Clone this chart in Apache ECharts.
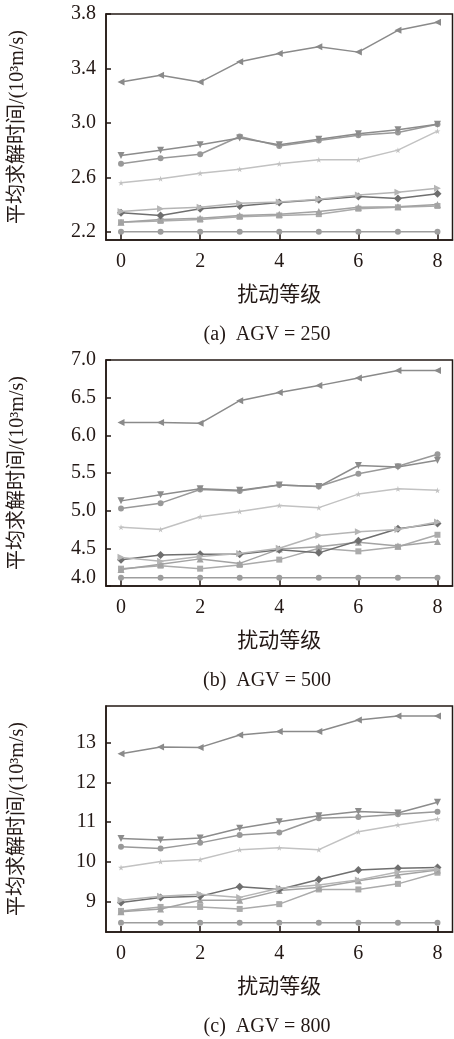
<!DOCTYPE html>
<html>
<head>
<meta charset="utf-8">
<script src="https://cdn.jsdelivr.net/npm/echarts@6/dist/echarts.min.js"></script>
<style>
  html, body { margin: 0; padding: 0; background: #fff; }
  #chart { width: 454px; height: 1039px; }
</style>
</head>
<body>
<div id="chart"></div>
<script>
// disturbance levels on the x axis
const levels = [0, 1, 2, 3, 4, 5, 6, 7, 8];
const xTicks = [0, 2, 4, 6, 8];

// (a) AGV = 250
const a250_s0 = [3.30, 3.35, 3.30, 3.45, 3.51, 3.56, 3.52, 3.68, 3.74];
const a250_s1 = [2.76, 2.80, 2.84, 2.89, 2.84, 2.88, 2.92, 2.95, 2.99];
const a250_s2 = [2.70, 2.74, 2.77, 2.90, 2.83, 2.87, 2.91, 2.93, 2.99];
const a250_s3 = [2.56, 2.59, 2.63, 2.66, 2.70, 2.73, 2.73, 2.80, 2.94];
const a250_s4 = [2.35, 2.37, 2.38, 2.41, 2.42, 2.44, 2.47, 2.49, 2.52];
const a250_s5 = [2.34, 2.32, 2.37, 2.39, 2.415, 2.435, 2.46, 2.445, 2.48];
const a250_s6 = [2.27, 2.29, 2.30, 2.32, 2.33, 2.35, 2.38, 2.385, 2.40];
const a250_s7 = [2.27, 2.28, 2.29, 2.31, 2.32, 2.33, 2.37, 2.38, 2.39];
const a250_s8 = [2.20, 2.20, 2.20, 2.20, 2.20, 2.20, 2.20, 2.20, 2.20];
const yTicks250 = [2.2, 2.6, 3.0, 3.4, 3.8];

// (b) AGV = 500
const a500_s0 = [6.17, 6.17, 6.16, 6.46, 6.57, 6.66, 6.76, 6.86, 6.86];
const a500_s1 = [5.13, 5.21, 5.29, 5.27, 5.34, 5.32, 5.60, 5.58, 5.67];
const a500_s2 = [5.03, 5.10, 5.28, 5.26, 5.34, 5.32, 5.49, 5.59, 5.75];
const a500_s3 = [4.78, 4.75, 4.92, 4.99, 5.07, 5.04, 5.22, 5.29, 5.27];
const a500_s4 = [4.38, 4.33, 4.39, 4.43, 4.50, 4.67, 4.72, 4.75, 4.85];
const a500_s5 = [4.35, 4.41, 4.42, 4.42, 4.48, 4.44, 4.60, 4.76, 4.83];
const a500_s6 = [4.22, 4.29, 4.36, 4.30, 4.49, 4.52, 4.58, 4.53, 4.59];
const a500_s7 = [4.23, 4.27, 4.23, 4.28, 4.35, 4.50, 4.46, 4.52, 4.68];
const a500_s8 = [4.11, 4.11, 4.11, 4.11, 4.11, 4.11, 4.11, 4.11, 4.11];
const yTicks500 = [4.0, 4.5, 5.0, 5.5, 6.0, 6.5, 7.0];

// (c) AGV = 800
const a800_s0 = [12.72, 12.89, 12.88, 13.19, 13.28, 13.28, 13.57, 13.67, 13.67];
const a800_s1 = [10.59, 10.55, 10.60, 10.85, 11.01, 11.16, 11.27, 11.23, 11.50];
const a800_s2 = [10.38, 10.34, 10.48, 10.68, 10.74, 11.10, 11.13, 11.20, 11.26];
const a800_s3 = [9.86, 10.01, 10.06, 10.31, 10.36, 10.31, 10.76, 10.93, 11.08];
const a800_s4 = [9.04, 9.14, 9.19, 9.11, 9.34, 9.42, 9.55, 9.75, 9.81];
const a800_s5 = [8.98, 9.11, 9.14, 9.38, 9.31, 9.56, 9.80, 9.84, 9.86];
const a800_s6 = [8.75, 8.82, 9.04, 9.04, 9.28, 9.36, 9.53, 9.67, 9.80];
const a800_s7 = [8.77, 8.87, 8.87, 8.82, 8.94, 9.31, 9.31, 9.45, 9.73];
const a800_s8 = [8.47, 8.47, 8.47, 8.47, 8.47, 8.47, 8.47, 8.47, 8.47];
const yTicks800 = [9, 10, 11, 12, 13];

const captions = ['(a)  AGV = 250', '(b)  AGV = 500', '(c)  AGV = 800'];
const xName = '扰动等级';
const yName = '平均求解时间/(10³m/s)';

const panels = [
  { series: [a250_s0, a250_s1, a250_s2, a250_s3, a250_s4, a250_s5, a250_s6, a250_s7, a250_s8],
    ticks: yTicks250, min: 2.14, max: 3.8, dec: 1 },
  { series: [a500_s0, a500_s1, a500_s2, a500_s3, a500_s4, a500_s5, a500_s6, a500_s7, a500_s8],
    ticks: yTicks500, min: 4.0, max: 7.0, dec: 1 },
  { series: [a800_s0, a800_s1, a800_s2, a800_s3, a800_s4, a800_s5, a800_s6, a800_s7, a800_s8],
    ticks: yTicks800, min: 8.24, max: 13.92, dec: 0 }
];

const starPath = 'path://M50,0 L61,35 L98,35 L68,57 L79,91 L50,70 L21,91 L32,57 L2,35 L39,35 Z';
// marker / colour per line (same order in every panel)
const styles = [
  { symbol: 'triangle', rotate: 90, color: '#8a8a8a', size: 7 },
  { symbol: 'triangle', rotate: 180, color: '#8c8c8c', size: 7 },
  { symbol: 'circle', rotate: 0, color: '#999999', size: 6 },
  { symbol: starPath, rotate: 0, color: '#c2c2c2', size: 6 },
  { symbol: 'triangle', rotate: -90, color: '#b5b5b5', size: 7 },
  { symbol: 'diamond', rotate: 0, color: '#6f6f6f', size: 8 },
  { symbol: 'triangle', rotate: 0, color: '#a3a3a3', size: 7 },
  { symbol: 'rect', rotate: 0, color: '#ababab', size: 6 },
  { symbol: 'circle', rotate: 0, color: '#9d9d9d', size: 6 }
];

const ink = '#231815';
const serif = '"Liberation Serif", "Noto Sans CJK SC", serif';
const gridTop = [14, 360, 706];
const gridH = 226;

const grid = [], xAxis = [], yAxis = [], series = [], title = [];

panels.forEach((p, i) => {
  grid.push({
    left: 106, right: 1.5, top: gridTop[i], height: gridH,
    show: true, borderColor: ink, borderWidth: 1.5
  });
  xAxis.push({
    gridIndex: i, type: 'value', min: -0.38, max: 8.38,
    name: xName, nameLocation: 'middle', nameGap: 45,
    nameTextStyle: { fontFamily: serif, fontSize: 21, color: ink },
    axisLine: { onZero: false, lineStyle: { color: ink, width: 1.5 } },
    axisTick: { inside: true, length: 6, customValues: xTicks, lineStyle: { color: ink, width: 1.5 } },
    axisLabel: { customValues: xTicks, margin: 12, fontFamily: serif, fontSize: 20, color: ink },
    splitLine: { show: false }
  });
  yAxis.push({
    gridIndex: i, type: 'value', min: p.min, max: p.max,
    name: yName, nameLocation: 'middle', nameGap: 78, nameRotate: 90,
    nameTextStyle: { fontFamily: serif, fontSize: 20, color: ink },
    axisLine: { onZero: false, lineStyle: { color: ink, width: 1.5 } },
    axisTick: { inside: true, length: 5, customValues: p.ticks, lineStyle: { color: ink, width: 1.5 } },
    axisLabel: {
      customValues: p.ticks, margin: 10, fontFamily: serif, fontSize: 20, color: ink,
      formatter: v => (v === p.min ? '{up|' + v.toFixed(p.dec) + '}' : v.toFixed(p.dec)),
      rich: { up: { fontFamily: serif, fontSize: 20, color: ink, padding: [0, 0, 16, 0] } }
    },
    splitLine: { show: false }
  });
  p.series.forEach((vals, k) => {
    const st = styles[k];
    series.push({
      type: 'line', xAxisIndex: i, yAxisIndex: i,
      data: levels.map((lv, j) => [lv, vals[j]]),
      symbol: st.symbol, symbolRotate: st.rotate, symbolSize: st.size,
      showSymbol: true, z: 10 - k,
      lineStyle: { color: st.color, width: 1.5 },
      itemStyle: { color: st.color },
      animation: false
    });
  });
  title.push({
    text: captions[i], left: 262, top: gridTop[i] + gridH + 80, textAlign: 'center',
    textStyle: { fontFamily: serif, fontSize: 20, fontWeight: 'normal', color: ink }
  });
});

const myChart = echarts.init(document.getElementById('chart'));
myChart.setOption({ animation: false, title, grid, xAxis, yAxis, series });
</script>
</body>
</html>
